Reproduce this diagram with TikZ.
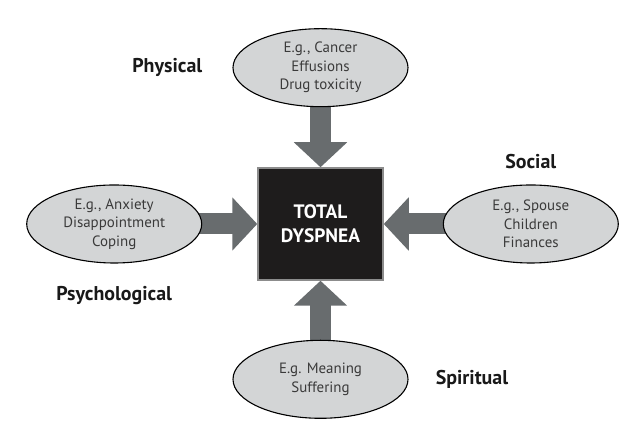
\documentclass[tikz,border=0pt]{standalone}
\usepackage{fontspec}
\setmainfont{PT Sans}
\usetikzlibrary{arrows.meta,positioning,shapes.geometric}
\definecolor{DyGray}{RGB}{104,108,110}
\definecolor{DyLight}{RGB}{211,213,214}
\definecolor{DyBox}{RGB}{30,28,28}
\definecolor{DyEdge}{RGB}{140,140,140}
\definecolor{DyText}{RGB}{58,58,58}
\pgfdeclarelayer{background}
\pgfsetlayers{background,main}
\begin{document}
\begin{tikzpicture}[x=1bp,y=1bp,
  oval/.style={ellipse,draw=black,line width=1.1bp,fill=DyLight,minimum width=175bp,
               minimum height=78bp,inner sep=0pt,align=center,text=DyText,
               font=\fontsize{15}{18.5}\selectfont},
  core/.style={draw=DyEdge,line width=1.5bp,fill=DyBox,minimum width=125bp,minimum height=112bp,
               align=center,text=white,font=\bfseries\fontsize{19.5}{24}\selectfont},
  tag/.style={inner sep=2bp,text=black!90,font=\bfseries\fontsize{20}{22}\selectfont},
  fat/.style={draw=DyGray,line width=21bp,-{Triangle[length=25bp,width=52bp]}}
]
\useasboundingbox (0,0) rectangle (637,443);
\node[core] (dysp) at (320.5,219) {TOTAL\\DYSPNEA};

\node[oval,above=60bp of dysp] (phy) {E.g., Cancer\\Effusions\\Drug toxicity};
\node[oval,left=55bp of dysp] (psy) {E.g., Anxiety\\Disappointment\\Coping};
\node[oval,right=59bp of dysp] (soc) {E.g., Spouse\\Children\\Finances};
\node[oval,below=59bp of dysp] (spi) {E.g. Meaning\\Suffering};

\node[tag,left=28bp of phy] (lphy) {Physical};
\node[tag,below=21bp of psy] (lpsy) {Psychological};
\node[tag,above=13bp of soc] (lsoc) {Social};
\node[tag,right=25bp of spi] (lspi) {Spiritual};

\begin{pgfonlayer}{background}
\draw[fat] (phy.center)--(dysp.north); \draw[fat] (psy.center)--(dysp.west);
\draw[fat] (soc.center)--(dysp.east); \draw[fat] (spi.center)--(dysp.south);
\end{pgfonlayer}
\end{tikzpicture}
\end{document}
